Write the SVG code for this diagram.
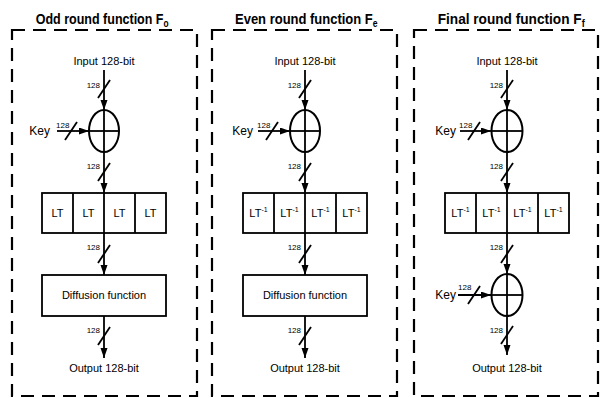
<svg xmlns="http://www.w3.org/2000/svg" width="601" height="398" viewBox="0 0 601 398">
<defs>
<marker id="ah" markerUnits="userSpaceOnUse" markerWidth="11" markerHeight="8" refX="10" refY="3.5" orient="auto">
<path d="M0,0 L10,3.5 L0,7 z" fill="#000"/>
</marker>
<style>
.frame{fill:none;stroke:#000;stroke-width:2.2;stroke-dasharray:13 8}
.ln{stroke:#000;stroke-width:1.8;fill:none}
.arr{stroke:#000;stroke-width:1.8;fill:none;marker-end:url(#ah)}
.sl{stroke:#000;stroke-width:1.8}
.box{fill:#fff;stroke:#000;stroke-width:1.8}
.xor{fill:#fff;stroke:#000;stroke-width:2}
.t{font-family:"Liberation Sans",Arial,sans-serif;font-size:11px;fill:#000}
.k{font-family:"Liberation Sans",Arial,sans-serif;font-size:12px;fill:#000}
.n{font-family:"Liberation Sans",Arial,sans-serif;font-size:8px;fill:#000}
.ttl{font-family:"Liberation Sans",Arial,sans-serif;font-size:15px;font-weight:bold;fill:#000}
.sub{font-size:10px}
.sup{font-size:7px}
</style>
</defs>

<g id="panel-odd">
<text class="ttl" transform="translate(35.7,24) scale(0.835,1)">Odd round function F<tspan class="sub" dy="3">o</tspan></text>
<rect class="frame" x="12" y="30" width="185" height="366"/>
</g>
<g id="panel-even">
<text class="ttl" transform="translate(235,24) scale(0.867,1)">Even round function F<tspan class="sub" dy="3">e</tspan></text>
<rect class="frame" x="212" y="30" width="185" height="366"/>
</g>
<g id="panel-final">
<text class="ttl" transform="translate(437.7,24) scale(0.91,1)">Final round function F<tspan class="sub" dy="3">f</tspan></text>
<rect class="frame" x="414" y="30" width="184" height="366"/>
</g>

<g id="connectors">
<!-- panel odd -->
<line class="arr" x1="104" y1="70" x2="104" y2="110"/>
<line class="arr" x1="57" y1="131" x2="89" y2="131"/>
<line class="arr" x1="104" y1="152" x2="104" y2="193"/>
<line class="arr" x1="104" y1="233" x2="104" y2="275"/>
<line class="arr" x1="104" y1="316" x2="104" y2="358"/>
<line class="sl" x1="98" y1="98" x2="110" y2="80"/>
<line class="sl" x1="65" y1="140" x2="77" y2="122"/>
<line class="sl" x1="98" y1="181" x2="110" y2="163"/>
<line class="sl" x1="98" y1="263" x2="110" y2="245"/>
<line class="sl" x1="98" y1="345" x2="110" y2="327"/>
<!-- panel even -->
<line class="arr" x1="305" y1="70" x2="305" y2="110"/>
<line class="arr" x1="258" y1="131" x2="290" y2="131"/>
<line class="arr" x1="305" y1="152" x2="305" y2="193"/>
<line class="arr" x1="305" y1="233" x2="305" y2="275"/>
<line class="arr" x1="305" y1="316" x2="305" y2="358"/>
<line class="sl" x1="299" y1="98" x2="311" y2="80"/>
<line class="sl" x1="266" y1="140" x2="278" y2="122"/>
<line class="sl" x1="299" y1="181" x2="311" y2="163"/>
<line class="sl" x1="299" y1="263" x2="311" y2="245"/>
<line class="sl" x1="299" y1="345" x2="311" y2="327"/>
<!-- panel final -->
<line class="arr" x1="507" y1="70" x2="507" y2="110"/>
<line class="arr" x1="460" y1="131" x2="491" y2="131"/>
<line class="arr" x1="507" y1="152" x2="507" y2="193"/>
<line class="arr" x1="507" y1="233" x2="507" y2="274"/>
<line class="arr" x1="458" y1="295" x2="491" y2="295"/>
<line class="arr" x1="507" y1="316" x2="507" y2="355"/>
<line class="sl" x1="501" y1="98" x2="513" y2="80"/>
<line class="sl" x1="468" y1="140" x2="480" y2="122"/>
<line class="sl" x1="501" y1="181" x2="513" y2="163"/>
<line class="sl" x1="501" y1="263" x2="513" y2="245"/>
<line class="sl" x1="468" y1="304" x2="480" y2="286"/>
<line class="sl" x1="501" y1="344" x2="513" y2="326"/>
</g>

<g id="labels-odd">
<text class="t" x="104" y="65" text-anchor="middle">Input 128-bit</text>
<text class="n" x="100" y="88" text-anchor="end">128</text>
<text class="k" x="50" y="135" text-anchor="end">Key</text>
<text class="n" x="56" y="128">128</text>
<text class="n" x="100" y="169" text-anchor="end">128</text>
<text class="n" x="100" y="250" text-anchor="end">128</text>
<text class="n" x="100" y="333" text-anchor="end">128</text>
<text class="t" x="104" y="372" text-anchor="middle">Output 128-bit</text>
</g>
<g id="xor-odd">
<ellipse class="xor" cx="104" cy="131" rx="15" ry="21"/>
<line class="ln" x1="89" y1="131" x2="119" y2="131"/>
<line class="ln" x1="104" y1="110" x2="104" y2="152"/>
</g>
<g id="lt-odd">
<rect class="box" x="42" y="193" width="124" height="40"/>
<line class="ln" x1="73" y1="193" x2="73" y2="233"/>
<line class="ln" x1="104" y1="193" x2="104" y2="233"/>
<line class="ln" x1="135" y1="193" x2="135" y2="233"/>
<text class="t" x="57.5" y="217" text-anchor="middle">LT</text>
<text class="t" x="88.5" y="217" text-anchor="middle">LT</text>
<text class="t" x="119.5" y="217" text-anchor="middle">LT</text>
<text class="t" x="150.5" y="217" text-anchor="middle">LT</text>
</g>
<g id="diffusion-odd">
<rect class="box" x="42" y="275" width="124" height="41"/>
<text class="t" x="104" y="299" text-anchor="middle">Diffusion function</text>
</g>

<g id="labels-even">
<text class="t" x="305" y="65" text-anchor="middle">Input 128-bit</text>
<text class="n" x="301" y="88" text-anchor="end">128</text>
<text class="k" x="253" y="135" text-anchor="end">Key</text>
<text class="n" x="257" y="128">128</text>
<text class="n" x="301" y="169" text-anchor="end">128</text>
<text class="n" x="301" y="250" text-anchor="end">128</text>
<text class="n" x="301" y="333" text-anchor="end">128</text>
<text class="t" x="305" y="372" text-anchor="middle">Output 128-bit</text>
</g>
<g id="xor-even">
<ellipse class="xor" cx="305" cy="131" rx="15" ry="21"/>
<line class="ln" x1="290" y1="131" x2="320" y2="131"/>
<line class="ln" x1="305" y1="110" x2="305" y2="152"/>
</g>
<g id="lt-even">
<rect class="box" x="243" y="193" width="124" height="40"/>
<line class="ln" x1="274" y1="193" x2="274" y2="233"/>
<line class="ln" x1="305" y1="193" x2="305" y2="233"/>
<line class="ln" x1="336" y1="193" x2="336" y2="233"/>
<text class="t" x="258.5" y="217" text-anchor="middle">LT<tspan class="sup" dy="-5">-1</tspan></text>
<text class="t" x="289.5" y="217" text-anchor="middle">LT<tspan class="sup" dy="-5">-1</tspan></text>
<text class="t" x="320.5" y="217" text-anchor="middle">LT<tspan class="sup" dy="-5">-1</tspan></text>
<text class="t" x="351.5" y="217" text-anchor="middle">LT<tspan class="sup" dy="-5">-1</tspan></text>
</g>
<g id="diffusion-even">
<rect class="box" x="243" y="275" width="124" height="41"/>
<text class="t" x="305" y="299" text-anchor="middle">Diffusion function</text>
</g>

<g id="labels-final">
<text class="t" x="507" y="65" text-anchor="middle">Input 128-bit</text>
<text class="n" x="503" y="88" text-anchor="end">128</text>
<text class="k" x="456" y="135" text-anchor="end">Key</text>
<text class="n" x="459" y="128">128</text>
<text class="n" x="503" y="169" text-anchor="end">128</text>
<text class="n" x="503" y="250" text-anchor="end">128</text>
<text class="k" x="456" y="299" text-anchor="end">Key</text>
<text class="n" x="458" y="290">128</text>
<text class="n" x="503" y="333" text-anchor="end">128</text>
<text class="t" x="507" y="372" text-anchor="middle">Output 128-bit</text>
</g>
<g id="xor-final-1">
<ellipse class="xor" cx="507" cy="131" rx="15.5" ry="21"/>
<line class="ln" x1="491.5" y1="131" x2="522.5" y2="131"/>
<line class="ln" x1="507" y1="110" x2="507" y2="152"/>
</g>
<g id="lt-final">
<rect class="box" x="445" y="193" width="124" height="40"/>
<line class="ln" x1="476" y1="193" x2="476" y2="233"/>
<line class="ln" x1="507" y1="193" x2="507" y2="233"/>
<line class="ln" x1="538" y1="193" x2="538" y2="233"/>
<text class="t" x="460.5" y="217" text-anchor="middle">LT<tspan class="sup" dy="-5">-1</tspan></text>
<text class="t" x="491.5" y="217" text-anchor="middle">LT<tspan class="sup" dy="-5">-1</tspan></text>
<text class="t" x="522.5" y="217" text-anchor="middle">LT<tspan class="sup" dy="-5">-1</tspan></text>
<text class="t" x="553.5" y="217" text-anchor="middle">LT<tspan class="sup" dy="-5">-1</tspan></text>
</g>
<g id="xor-final-2">
<ellipse class="xor" cx="507" cy="295" rx="15.5" ry="21"/>
<line class="ln" x1="491.5" y1="295" x2="522.5" y2="295"/>
<line class="ln" x1="507" y1="274" x2="507" y2="316"/>
</g>
</svg>
